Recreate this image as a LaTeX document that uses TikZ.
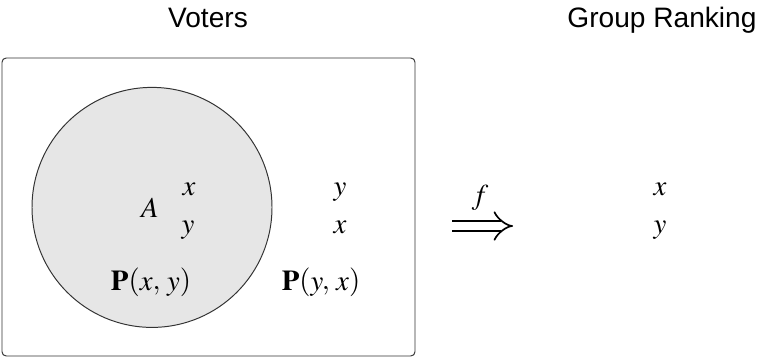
\documentclass[tikz,border=0pt]{standalone}
\usepackage{mathptmx}
\usepackage[no-math]{fontspec}
\setmainfont{Liberation Serif}
\setsansfont{Liberation Sans}
\usepackage{xcolor}
\usepackage{tikz}
\usetikzlibrary{arrows.meta, positioning}
\definecolor{circgray}{HTML}{E6E6E6}
\definecolor{linegray}{HTML}{333333}
\tikzset{
  ttlnode/.style={font=\sffamily\fontsize{20}{24}\selectfont,anchor=base,inner sep=0pt},
  prefnode/.style={font=\fontsize{20.5}{24}\selectfont,anchor=base,inner sep=0pt},
  votbox/.style={draw=linegray,line width=0.7pt,rounded corners=3pt,inner sep=0pt},
  coalcirc/.style={circle,draw=linegray,fill=circgray,line width=0.7pt,inner sep=0pt,minimum size=6cm},
  impedge/.style={-{Implies[scale=1.35]},double,double distance=6.2pt,line width=1.2pt,black},
}

\begin{document}
\begin{tikzpicture}
  \useasboundingbox (0,0) rectangle (19.225,8.975);
  % titles
  \node[ttlnode] (tVot) at (5.20,8.275) {Voters};
  \node[ttlnode] (tGrp) at (16.55,8.275) {Group Ranking};
  % voters
  \node[votbox,minimum width=10.325cm,minimum height=7.45cm] (vbox) at (5.2125,3.80) {};
  \node[coalcirc] (cA) at (3.80,3.79) {};
  \node[prefnode] (nA) at (3.75,3.525) {$A$};
  \node[prefnode] (ax) at (4.725,4.075) {$x$};
  \node[prefnode] (ay) at (4.70,3.15) {$y$};
  \node[prefnode] (pA) at (3.775,1.725) {$\mathbf{P}(x,\,y)$};
  \node[prefnode] (by) at (8.50,4.075) {$y$};
  \node[prefnode] (bx) at (8.50,3.15) {$x$};
  \node[prefnode] (pB) at (8.025,1.725) {$\mathbf{P}(y,\,x)$};
  % aggregation
  \node[prefnode] (nf) at (12.00,3.85) {$f$};
  \coordinate (arrL) at (11.30,3.325);
  \coordinate (arrR) at (12.825,3.325);
  \draw[impedge] (arrL) -- (arrR);
  % group ranking
  \node[prefnode] (gx) at (16.50,4.075) {$x$};
  \node[prefnode] (gy) at (16.50,3.15) {$y$};
\end{tikzpicture}
\end{document}
